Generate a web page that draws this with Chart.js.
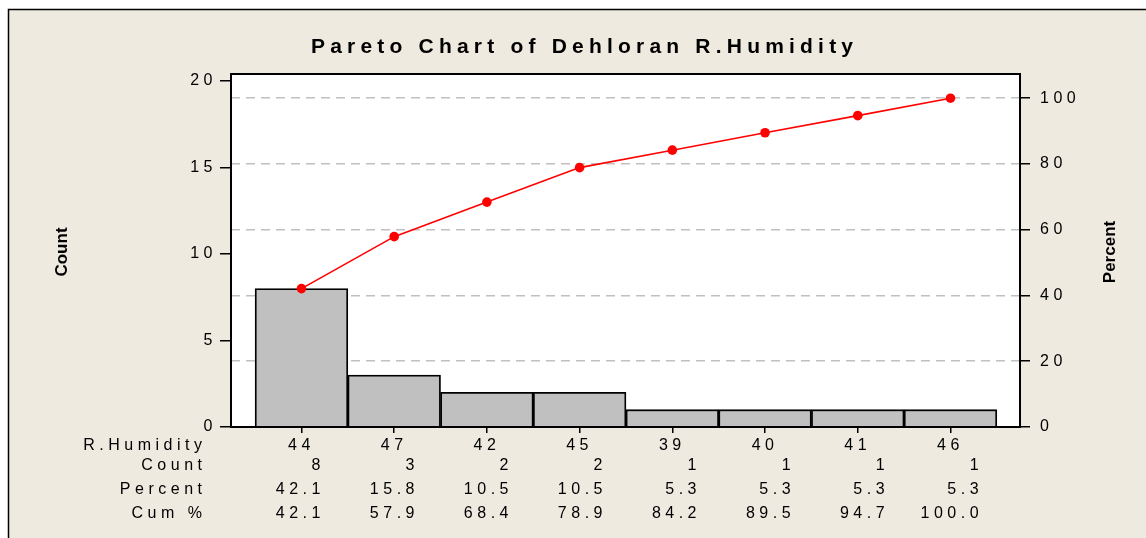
<!DOCTYPE html>
<html>
<head>
<meta charset="utf-8">
<script src="https://cdn.jsdelivr.net/npm/chart.js@4.4.0/dist/chart.umd.min.js"></script>
<style>
  html, body { margin: 0; padding: 0; background: #fff; }
  #wrap { width: 1146px; height: 538px; }
</style>
</head>
<body>
<div id="wrap"><canvas id="pareto" width="1146" height="538"></canvas></div>
<script>
'use strict';

// Pareto data
const chartTitle = 'Pareto Chart of Dehloran R.Humidity';
const humidity = ['44', '47', '42', '45', '39', '40', '41', '46'];
const counts = [8, 3, 2, 2, 1, 1, 1, 1];
const percents = [42.1, 15.8, 10.5, 10.5, 5.3, 5.3, 5.3, 5.3];
const cumPercents = [42.1, 57.9, 68.4, 78.9, 84.2, 89.5, 94.7, 100.0];
const rowNames = ['R.Humidity', 'Count', 'Percent', 'Cum %'];
const countTicks = [0, 5, 10, 15, 20];
const percentTicks = [0, 20, 40, 60, 80, 100];

const countMax = 20.4;
const total = counts.reduce((a, b) => a + b, 0);
const percentMax = countMax / total * 100;   // keeps 100% level with the total count

const FAMILY = '"Liberation Sans", Arial, sans-serif';
const tickFont = { family: FAMILY, size: 16 };
const SPACING = 4.5;   // Minitab spreads its text out

/**
 * Frame, title, axis titles and the count/percent table under the bars.
 */
const paretoDecor = {
    id: 'paretoDecor',
    beforeDraw(chart) {
        const {ctx, chartArea: a, width, height} = chart;
        ctx.save();
        ctx.fillStyle = '#fff';
        ctx.fillRect(0, 0, width, height);
        ctx.fillStyle = '#EEEAE0';
        ctx.fillRect(8, 9, width - 8, height - 9);
        ctx.strokeStyle = '#000';
        ctx.lineWidth = 1.5;
        ctx.beginPath();
        ctx.moveTo(8.5, height);
        ctx.lineTo(8.5, 9.5);
        ctx.lineTo(width, 9.5);
        ctx.stroke();
        ctx.fillStyle = '#fff';
        ctx.fillRect(a.left, a.top, a.right - a.left, a.bottom - a.top);
        ctx.restore();
        ctx.letterSpacing = SPACING + 'px';
    },
    afterDraw(chart) {
        const {ctx, chartArea: a} = chart;
        const x = chart.scales.x;
        ctx.save();
        ctx.strokeStyle = '#000';
        ctx.lineWidth = 2;
        ctx.strokeRect(a.left, a.top, a.right - a.left, a.bottom - a.top);

        ctx.fillStyle = '#000';
        ctx.textBaseline = 'middle';

        ctx.font = 'bold 21px ' + FAMILY;
        ctx.letterSpacing = '5.2px';
        ctx.textAlign = 'center';
        ctx.fillText(chartTitle, 582 + 2.6, 47);

        ctx.letterSpacing = '0px';
        ctx.font = 'bold 17px ' + FAMILY;
        ctx.save();
        ctx.translate(62, 252);
        ctx.rotate(-Math.PI / 2);
        ctx.fillText('Count', 0, 0);
        ctx.restore();
        ctx.save();
        ctx.translate(1110, 252);
        ctx.rotate(-Math.PI / 2);
        ctx.fillText('Percent', 0, 0);
        ctx.restore();

        // table rows
        ctx.font = '16px ' + FAMILY;
        ctx.letterSpacing = SPACING + 'px';
        ctx.textAlign = 'right';
        const rowY = [446, 466, 490, 514];
        const rows = [
            null,
            counts.map(String),
            percents.map(v => v.toFixed(1)),
            cumPercents.map(v => v.toFixed(1))
        ];
        rowNames.forEach((name, r) => {
            ctx.fillText(name, 202 + SPACING, rowY[r]);
            if (!rows[r]) return;
            rows[r].forEach((txt, i) => {
                ctx.fillText(txt, x.getPixelForValue(i) + 19 + i * 1.3 + SPACING, rowY[r]);
            });
        });
        ctx.restore();
    }
};

new Chart(document.getElementById('pareto'), {
    type: 'bar',
    data: {
        datasets: [{
            type: 'line',
            label: 'Cum %',
            data: cumPercents.map((v, i) => ({x: i, y: v})),
            yAxisID: 'y2',
            borderColor: '#FF0000',
            borderWidth: 1.6,
            pointRadius: 4.8,
            pointBackgroundColor: '#FF0000',
            pointBorderWidth: 0,
            tension: 0
        }, {
            label: 'Count',
            data: counts.map((v, i) => ({x: i, y: v})),
            yAxisID: 'y',
            backgroundColor: '#C0C0C0',
            borderColor: '#000',
            borderWidth: 1.8,
            barPercentage: 1,
            categoryPercentage: 1
        }]
    },
    options: {
        responsive: false,
        animation: false,
        layout: {padding: {top: 74, left: 0, right: 0, bottom: 0}},
        plugins: {
            legend: {display: false},
            tooltip: {enabled: false},
            title: {display: false}
        },
        scales: {
            x: {
                type: 'linear',
                min: -0.76,
                max: 7.75,
                offset: false,
                afterBuildTicks: s => { s.ticks = humidity.map((_, i) => ({value: i})); },
                afterFit: s => { s.height = 111; },
                grid: {drawOnChartArea: false, offset: false, tickLength: 6, color: '#000', lineWidth: 1.5},
                border: {color: '#000', width: 2},
                ticks: {callback: v => humidity[v], font: tickFont, color: '#000', padding: 3, maxRotation: 0, autoSkip: false}
            },
            y: {
                position: 'left',
                min: 0,
                max: countMax,
                afterBuildTicks: s => { s.ticks = countTicks.map(v => ({value: v})); },
                afterFit: s => { s.width = 231; },
                grid: {drawOnChartArea: false, tickLength: 11, color: '#000', lineWidth: 1.5},
                border: {color: '#000', width: 2},
                ticks: {font: tickFont, color: '#000', padding: 3}
            },
            y2: {
                position: 'right',
                min: 0,
                max: percentMax,
                afterBuildTicks: s => { s.ticks = percentTicks.map(v => ({value: v})); },
                afterFit: s => { s.width = 126; },
                grid: {drawOnChartArea: true, tickLength: 10, color: '#C0C0C0', tickColor: '#000', lineWidth: 1.5},
                border: {color: '#000', width: 2, dash: [9, 6]},
                ticks: {font: tickFont, color: '#000', padding: 10}
            }
        }
    },
    plugins: [paretoDecor]
});
</script>
</body>
</html>
